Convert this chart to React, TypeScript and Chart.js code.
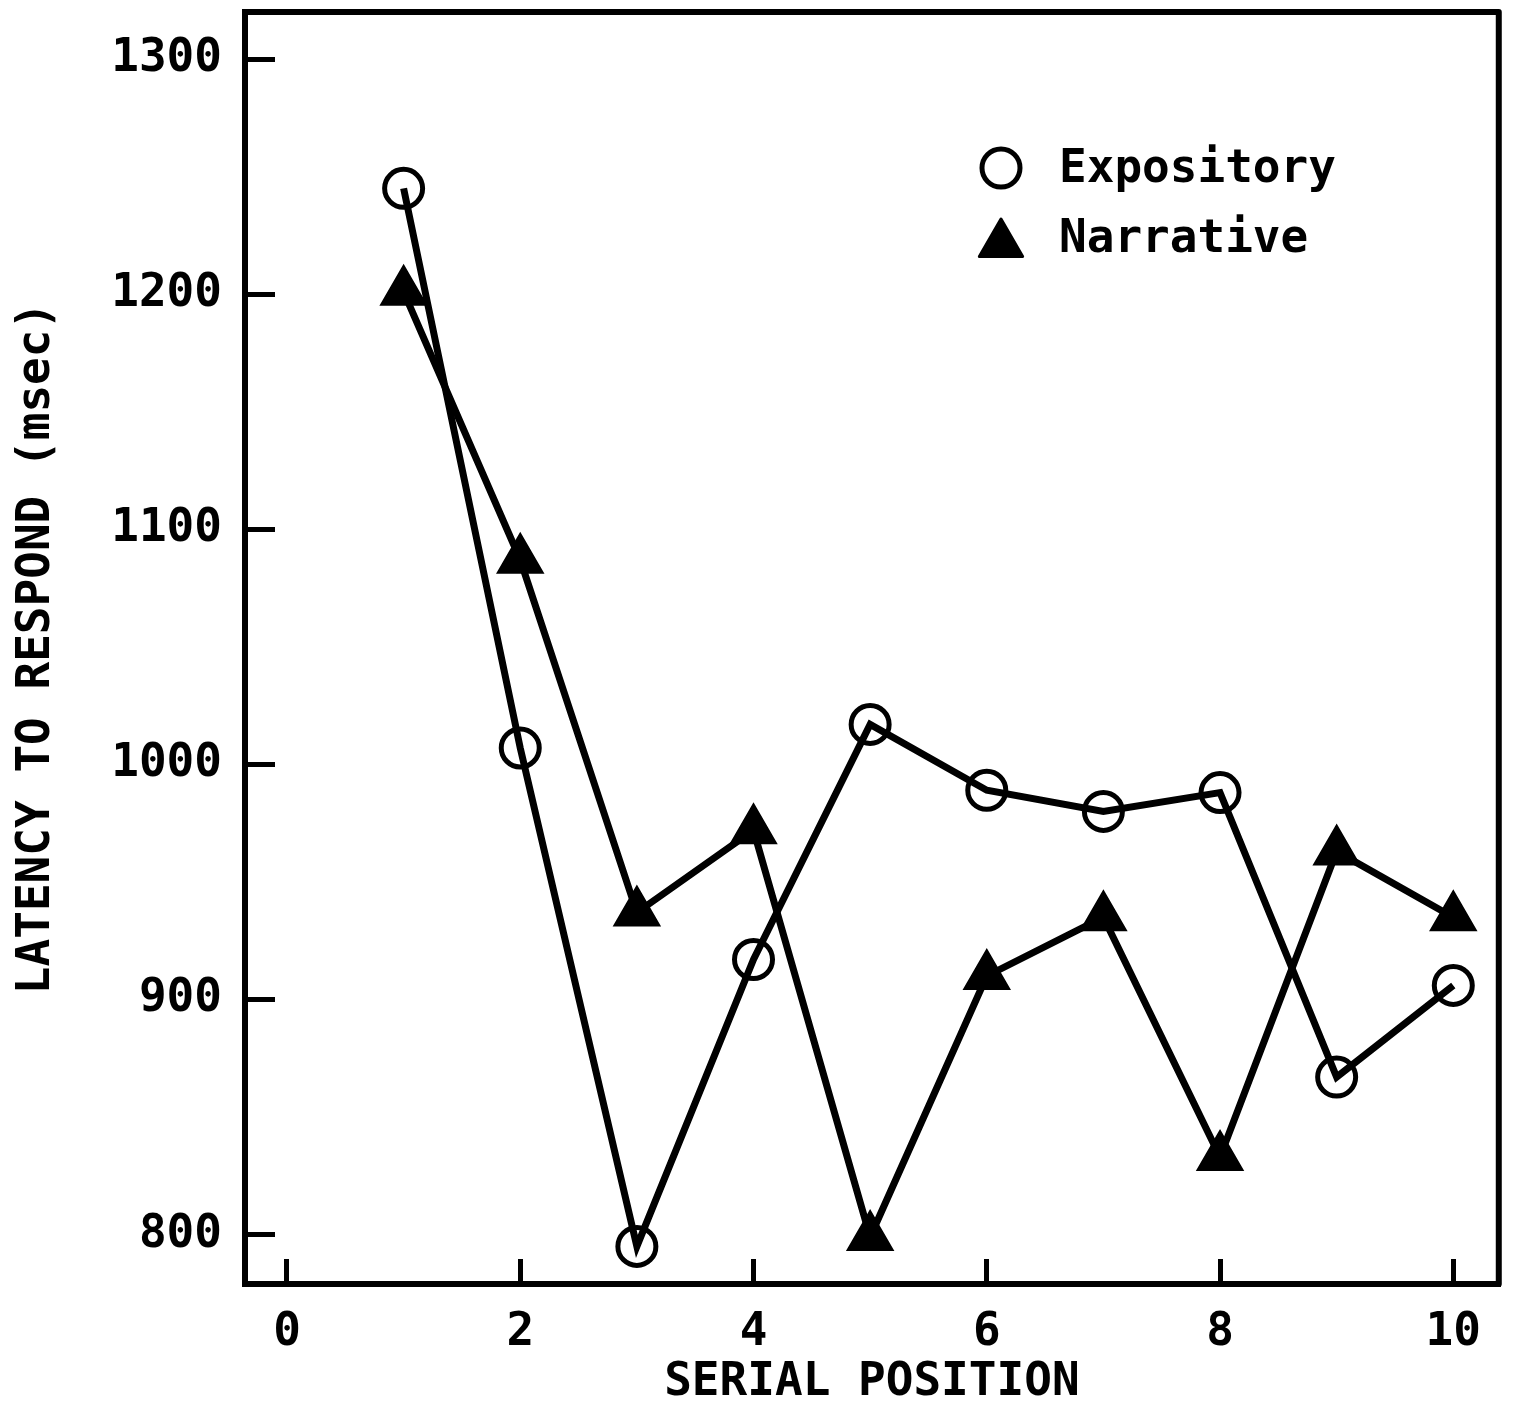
import React, { useEffect, useRef } from "react";
import { Chart, registerables } from "chart.js";

Chart.register(...registerables);

// Serial-position latency data
const serialPositions = [1, 2, 3, 4, 5, 6, 7, 8, 9, 10];
const expositoryLatency = [1245, 1007, 795, 917, 1017, 989, 980, 988, 867, 906];
const narrativeLatency = [1201, 1087, 937, 972, 799, 910, 935, 833, 963, 935];

const seriesNames = ["Expository", "Narrative"];
const xTickValues = [0, 2, 4, 6, 8, 10];
const yTickValues = [800, 900, 1000, 1100, 1200, 1300];
const xAxisTitle = "SERIAL POSITION";
const yAxisTitle = "LATENCY TO RESPOND (msec)";

const FONT = '"DejaVu Sans Mono", "Liberation Mono", monospace';
const INK = "#000";
const PAGE_W = 1513;
const PAGE_H = 1414;
// wanted plot-area frame on the page
const AREA_TOP = 12;
const AREA_RIGHT = 1498;

const whiteBackground = {
  id: "whiteBackground",
  beforeDraw(chart: any) {
    const { ctx, width, height } = chart;
    ctx.save();
    ctx.fillStyle = "#fff";
    ctx.fillRect(0, 0, width, height);
    ctx.restore();
  },
};

// Closed frame around the plotting area
const plotFrame = {
  id: "plotFrame",
  afterDraw(chart: any) {
    const { ctx, chartArea } = chart;
    ctx.save();
    ctx.strokeStyle = INK;
    ctx.lineWidth = 6;
    ctx.lineJoin = "round";
    ctx.strokeRect(chartArea.left, chartArea.top, chartArea.right - chartArea.left, chartArea.bottom - chartArea.top);
    ctx.restore();
  },
};

// Legend drawn inside the upper-right part of the plot
const insetLegend = {
  id: "insetLegend",
  afterDraw(chart: any) {
    const { ctx, chartArea } = chart;
    const mx = chartArea.left + 756;
    const rows = [chartArea.top + 156, chartArea.top + 226];
    ctx.save();
    ctx.strokeStyle = INK;
    ctx.fillStyle = INK;
    ctx.lineJoin = "round";
    // open circle
    ctx.lineWidth = 5;
    ctx.beginPath();
    ctx.arc(mx, rows[0], 19, 0, Math.PI * 2);
    ctx.stroke();
    // filled triangle
    const r = 25;
    const cy = rows[1] + 6;
    ctx.lineWidth = 3;
    ctx.beginPath();
    ctx.moveTo(mx, cy - r);
    ctx.lineTo(mx + r * Math.sin((Math.PI * 2) / 3), cy - r * Math.cos((Math.PI * 2) / 3));
    ctx.lineTo(mx - r * Math.sin((Math.PI * 2) / 3), cy - r * Math.cos((Math.PI * 2) / 3));
    ctx.closePath();
    ctx.fill();
    ctx.stroke();
    ctx.font = `bold 46px ${FONT}`;
    ctx.textBaseline = "middle";
    ctx.textAlign = "left";
    chart.data.datasets.forEach((ds: any, i: number) => {
      ctx.fillText(ds.label, mx + 58, rows[i] + 2);
    });
    ctx.restore();
  },
};

function buildChart(canvas: HTMLCanvasElement) {
  const tickFont = { family: FONT, size: 46, weight: "bold" as const, lineHeight: 1 };
  return new Chart(canvas, {
    type: "line",
    data: {
      datasets: [
        {
          label: seriesNames[0],
          data: serialPositions.map((x, i) => ({ x, y: expositoryLatency[i] })),
          borderColor: INK,
          borderWidth: 7,
          pointStyle: "circle",
          pointRadius: 19,
          pointBorderWidth: 5,
          pointBorderColor: INK,
          pointBackgroundColor: "rgba(0,0,0,0)",
          tension: 0,
          fill: false,
        },
        {
          label: seriesNames[1],
          data: serialPositions.map((x, i) => ({ x, y: narrativeLatency[i] })),
          borderColor: INK,
          borderWidth: 7,
          pointStyle: "triangle",
          pointRadius: 25,
          pointBorderWidth: 3,
          pointBorderColor: INK,
          pointBackgroundColor: INK,
          tension: 0,
          fill: false,
        },
      ],
    },
    options: {
      animation: false,
      responsive: false,
      maintainAspectRatio: false,
      layout: { padding: 0 },
      plugins: {
        legend: { display: false },
        tooltip: { enabled: false },
      },
      scales: {
        x: {
          type: "linear",
          min: -0.36,
          max: 10.39,
          afterBuildTicks: (scale: any) => {
            scale.ticks = xTickValues.map((v) => ({ value: v }));
          },
          afterFit: (scale: any) => {
            scale.height = 130;
          },
          grid: {
            drawOnChartArea: false,
            drawTicks: true,
            tickLength: -25,
            lineWidth: 5,
            color: INK,
          },
          border: { display: true, color: INK, width: 6 },
          ticks: {
            color: INK,
            padding: 51,
            maxRotation: 0,
            callback: (v: any) => String(v),
            font: tickFont,
          },
          title: {
            display: true,
            text: xAxisTitle,
            color: INK,
            padding: { top: 0, bottom: 8 },
            font: tickFont,
          },
        },
        y: {
          type: "linear",
          min: 779,
          max: 1320,
          afterBuildTicks: (scale: any) => {
            scale.ticks = yTickValues.map((v) => ({ value: v }));
          },
          afterFit: (scale: any) => {
            scale.width = 245;
          },
          grid: {
            drawOnChartArea: false,
            drawTicks: true,
            tickLength: -30,
            lineWidth: 5,
            color: INK,
          },
          border: { display: true, color: INK, width: 6 },
          ticks: {
            color: INK,
            padding: 53,
            callback: (v: any) => String(v),
            font: tickFont,
          },
          title: {
            display: true,
            text: yAxisTitle,
            color: INK,
            padding: { top: 14, bottom: 0 },
            font: tickFont,
          },
        },
      },
    },
    plugins: [whiteBackground, plotFrame, insetLegend],
  });
}

function sizeCanvas(canvas: HTMLCanvasElement, w: number, h: number, top: number) {
  canvas.width = w;
  canvas.height = h;
  canvas.style.width = `${w}px`;
  canvas.style.height = `${h}px`;
  canvas.style.top = `${top}px`;
}

export default function App() {
  const canvasRef = useRef<HTMLCanvasElement | null>(null);

  useEffect(() => {
    const canvas = canvasRef.current;
    if (!canvas) return;
    sizeCanvas(canvas, PAGE_W, PAGE_H, 0);
    let chart = buildChart(canvas);
    // The label overhang reserved by the layout is fixed, so shift and
    // enlarge the canvas to put the plot frame where it belongs.
    const area = chart.chartArea;
    const shiftTop = Math.max(0, area.top - AREA_TOP);
    const rightGap = PAGE_W - area.right;
    chart.destroy();
    sizeCanvas(canvas, Math.round(AREA_RIGHT + rightGap), Math.round(PAGE_H + shiftTop), -shiftTop);
    chart = buildChart(canvas);
    return () => chart.destroy();
  }, []);

  return (
    <div style={{ position: "absolute", left: 0, top: 0, width: PAGE_W, height: PAGE_H, overflow: "hidden", background: "#fff" }}>
      <canvas ref={canvasRef} style={{ display: "block", position: "absolute", left: 0, top: 0 }} />
    </div>
  );
}
